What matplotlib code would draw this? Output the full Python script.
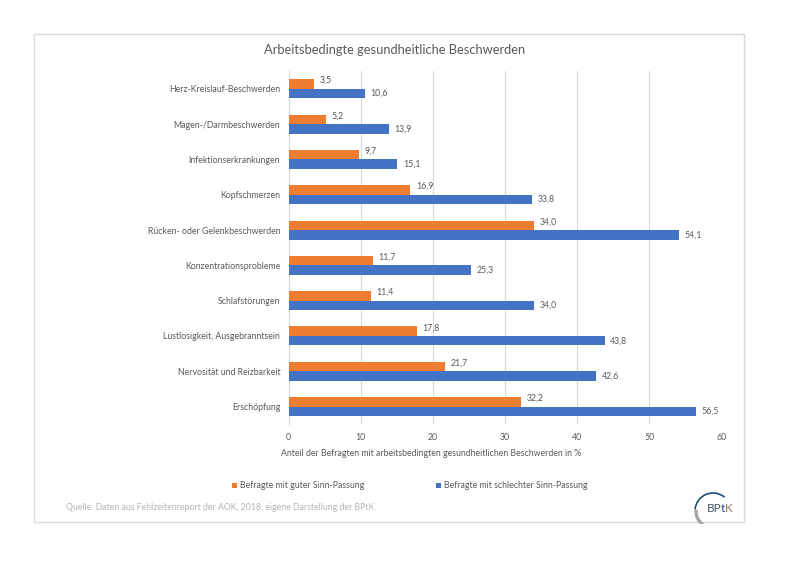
#! /usr/bin/env python3

import numpy as np
import matplotlib
matplotlib.use('Agg')
import matplotlib.pyplot as plt
from matplotlib.patches import Rectangle, Arc

categories = ['Herz-Kreislauf-Beschwerden', 'Magen-/Darmbeschwerden', 'Infektionserkrankungen',
	'Kopfschmerzen', 'Rücken- oder Gelenkbeschwerden', 'Konzentrationsprobleme', 'Schlafstörungen',
	'Lustlosigkeit, Ausgebranntsein', 'Nervosität und Reizbarkeit', 'Erschöpfung']
guter = [3.5, 5.2, 9.7, 16.9, 34.0, 11.7, 11.4, 17.8, 21.7, 32.2]
schlechter = [10.6, 13.9, 15.1, 33.8, 54.1, 25.3, 34.0, 43.8, 42.6, 56.5]
x_ticks = [0, 10, 20, 30, 40, 50, 60]

title = 'Arbeitsbedingte gesundheitliche Beschwerden'
x_label = 'Anteil der Befragten mit arbeitsbedingten gesundheitlichen Beschwerden in %'
label_guter = 'Befragte mit guter Sinn-Passung'
label_schlechter = 'Befragte mit schlechter Sinn-Passung'
source = 'Quelle: Daten aus Fehlzeitenreport der AOK, 2018, eigene Darstellung der BPtK.'

ORANGE = '#ed7d31'
BLUE = '#4472c4'
TEXT = '#595959'
GRID = '#d9d9d9'

W, H = 800, 566

plt.rcParams['font.family'] = ['Lato', 'DejaVu Sans']

def px_x (x):
	return x / W

def px_y (y):
	return 1 - y / H

def main ():
	fig = plt.figure(figsize=(8, 5.66), dpi=100)

	# outer chart frame, below the axes
	fig.add_artist(Rectangle((px_x(33.5), px_y(522)), 710/W, 488/H, transform=fig.transFigure,
		facecolor='white', edgecolor='#d9d9d9', linewidth=1.0, zorder=-1))

	ax = fig.add_axes([px_x(288.5), px_y(424.2), (721.5-288.5)/W, (424.2-71.2)/H])
	ax.patch.set_alpha(0)
	y = np.arange(len(categories))
	h = 0.27

	ax.barh(y - h/2, guter, height=h, color=ORANGE, zorder=3, label=label_guter)
	ax.barh(y + h/2, schlechter, height=h, color=BLUE, zorder=3, label=label_schlechter)

	for i in range(0, len(categories)):
		ax.annotate('{:.1f}'.format(guter[i]).replace('.', ','), (guter[i], y[i] - h/2), xytext=(4, 2.5),
			textcoords='offset points', va='center', ha='left', fontsize=6.3, color=TEXT)
		ax.annotate('{:.1f}'.format(schlechter[i]).replace('.', ','), (schlechter[i], y[i] + h/2), xytext=(4, 0),
			textcoords='offset points', va='center', ha='left', fontsize=6.3, color=TEXT)

	ax.set_ylim(len(categories) - 0.5, -0.5)
	ax.set_xlim(0, 60)
	ax.set_xticks(x_ticks)
	ax.set_yticks(y)
	ax.set_yticklabels(categories)
	ax.tick_params(axis='both', length=0, labelsize=6.3, labelcolor=TEXT)
	ax.tick_params(axis='y', pad=6)
	ax.tick_params(axis='x', pad=6)
	ax.grid(True, axis='x', color=GRID, linewidth=0.8, zorder=0)
	ax.set_axisbelow(True)
	for s in ['top', 'right', 'bottom']:
		ax.spines[s].set_visible(False)
	ax.spines['left'].set_color(GRID)
	ax.spines['left'].set_linewidth(0.8)

	fig.text(px_x(395), px_y(50), title, ha='center', va='center', fontsize=9.3, color=TEXT)
	fig.text(px_x(431.5), px_y(453), x_label, ha='center', va='center', fontsize=6.35, color=TEXT)

	# legend placed by hand
	fig.add_artist(Rectangle((px_x(232), px_y(487.5)), 5/W, 5/H, transform=fig.transFigure, facecolor=ORANGE, edgecolor='none'))
	fig.text(px_x(240), px_y(485), label_guter, ha='left', va='center', fontsize=6.3, color=TEXT)
	fig.add_artist(Rectangle((px_x(436), px_y(487.5)), 5/W, 5/H, transform=fig.transFigure, facecolor=BLUE, edgecolor='none'))
	fig.text(px_x(444), px_y(485), label_schlechter, ha='left', va='center', fontsize=6.3, color=TEXT)

	fig.text(px_x(66), px_y(507), source, ha='left', va='center', fontsize=6.3, color='#b5b5b5')

	# BPtK logo, y runs upward in pixels from the figure bottom
	lax = fig.add_axes([px_x(690), px_y(524), 50/W, 40/H])
	lax.set_xlim(690, 740)
	lax.set_ylim(H-524, H-484)
	lax.axis('off')
	lax.add_patch(Arc((713, H-511), 36, 36, theta1=50, theta2=175, color='#1f4e79', linewidth=1.2))
	lax.add_patch(Arc((713, H-511), 34, 34, theta1=175, theta2=235, color='#a6a6a6', linewidth=2.4))
	lax.text(707, H-508, 'BP', ha='left', va='center', fontsize=8.5, color='#44546a')
	lax.text(721, H-508, 't', ha='left', va='center', fontsize=8.5, color='#1f4e79')
	lax.text(725, H-508, 'K', ha='left', va='center', fontsize=8.5, color='#8c7a5b')

	fig.savefig('out.png', dpi=100, facecolor='white')

if __name__ == "__main__":
	main()
